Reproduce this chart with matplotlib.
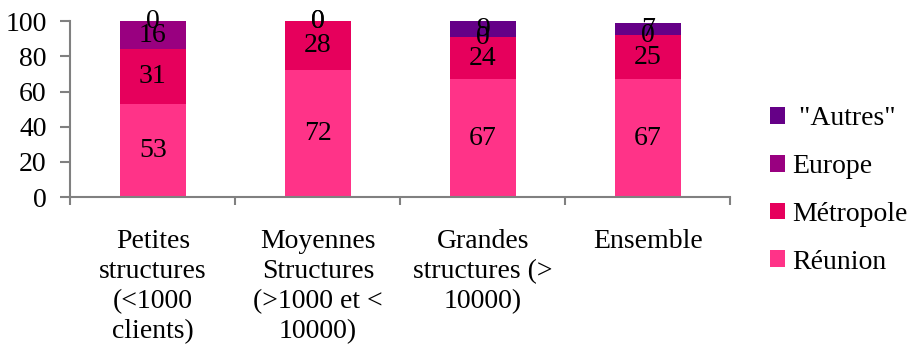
import matplotlib

matplotlib.use("Agg")
import matplotlib.pyplot as plt
import numpy as np

categories = [
    "Petites\nstructures\n(<1000\nclients)",
    "Moyennes\nStructures\n(>1000 et <\n10000)",
    "Grandes\nstructures (>\n10000)",
    "Ensemble",
]
series_names = ["Réunion", "Métropole", "Europe", ' "Autres"']
reunion = [53, 72, 67, 67]
metropole = [31, 28, 24, 25]
europe = [16, 0, 0, 0]
autres = [0, 0, 9, 7]
colors = ["#FF3388", "#E6005C", "#990080", "#650087"]

plt.rcParams["font.family"] = ["Liberation Serif", "DejaVu Serif"]
AXIS = "#808080"
FS = 20

fig = plt.figure(figsize=(9.14, 3.47), dpi=100)
ax = fig.add_axes([0.077, 0.432, 0.722, 0.507])

x = np.arange(len(categories))
bottom = np.zeros(len(categories))
handles = []
for name, vals, col in zip(series_names, [reunion, metropole, europe, autres], colors):
    vals = np.array(vals, dtype=float)
    bars = ax.bar(x, vals, width=0.4, bottom=bottom, color=col, label=name)
    handles.append(bars)
    # value label in the middle of each segment
    for xi, b, v in zip(x, bottom, vals):
        ax.text(xi, b + v / 2, f"{int(v)}", ha="center", va="center",
                fontsize=FS, color="black")
    bottom += vals

ax.set_xlim(-0.5, 3.5)
ax.set_ylim(0, 100)
ax.set_yticks(range(0, 101, 20))
ax.set_xticks(x)
ax.set_xticklabels(categories, fontsize=FS, linespacing=1.27)
ax.set_xticks(np.arange(-0.5, 4, 1), minor=True)
ax.tick_params(axis="x", which="major", length=0, pad=23)
ax.tick_params(axis="x", which="minor", length=6, color=AXIS, width=1.5)
ax.tick_params(axis="y", length=7, color=AXIS, width=1.5, pad=10, labelsize=FS)

for s in ["top", "right"]:
    ax.spines[s].set_visible(False)
for s in ["left", "bottom"]:
    ax.spines[s].set_color(AXIS)
    ax.spines[s].set_linewidth(1.5)

leg = fig.legend(handles[::-1], series_names[::-1], loc="upper left",
                 bbox_to_anchor=(0.821, 0.75), frameon=False, fontsize=FS,
                 handlelength=0.55, handleheight=0.55, handletextpad=0.25,
                 labelspacing=0.82, borderpad=0.2)

fig.savefig("out.png", dpi=100)
